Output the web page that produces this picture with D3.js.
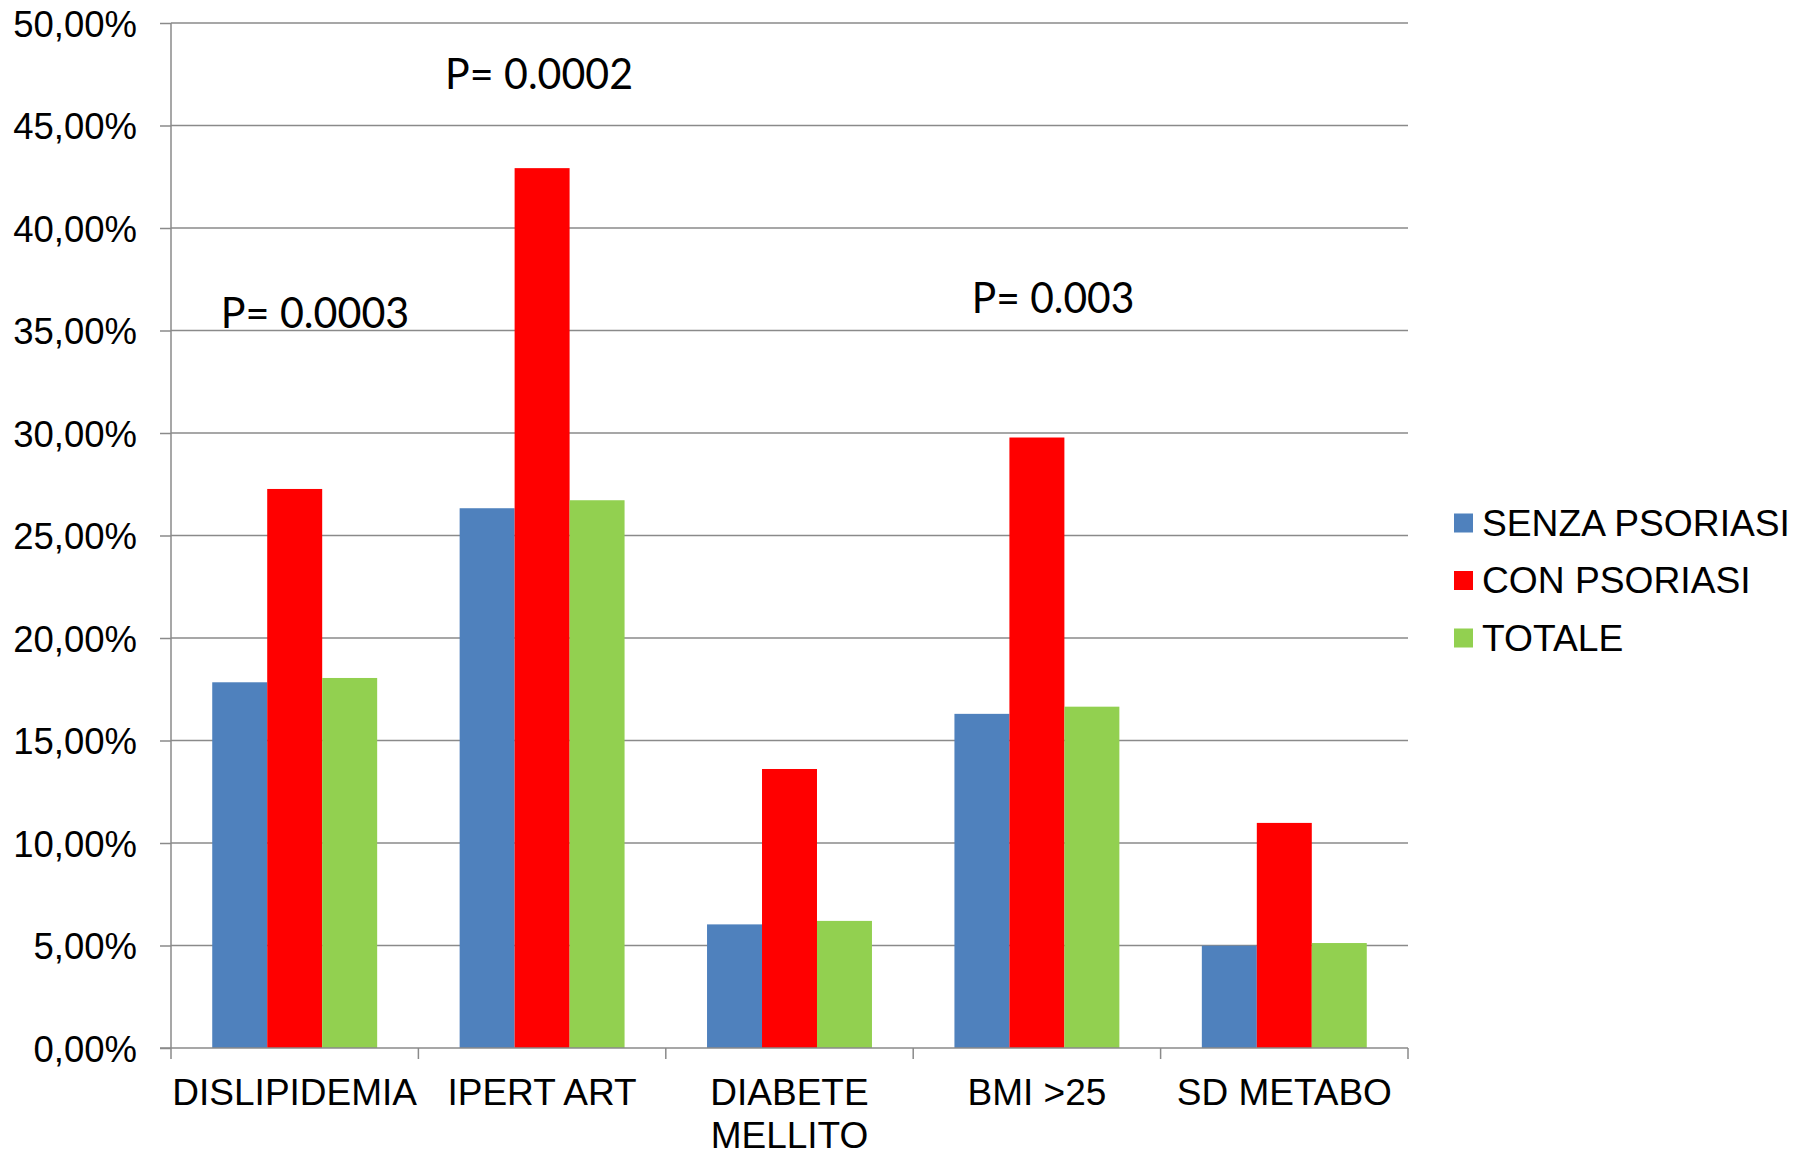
<!DOCTYPE html>
<html>
<head>
<meta charset="utf-8">
<script src="https://cdn.jsdelivr.net/npm/d3@7"></script>
<style>
  html, body { margin: 0; padding: 0; background: #fff; }
  svg { display: block; }
</style>
</head>
<body>
<svg id="chart" width="1796" height="1150"></svg>
<script>
// Categories (label lines) and series
const categories = ["DISLIPIDEMIA", "IPERT ART", "DIABETE MELLITO", "BMI >25", "SD METABO"];
const categoryLines = [["DISLIPIDEMIA"], ["IPERT ART"], ["DIABETE", "MELLITO"], ["BMI >25"], ["SD METABO"]];
const seriesNames = ["SENZA PSORIASI", "CON PSORIASI", "TOTALE"];
const senzaPsoriasi = [17.84, 26.33, 6.03, 16.30, 4.99];
const conPsoriasi   = [27.27, 42.92, 13.61, 29.78, 10.98];
const totale        = [18.05, 26.72, 6.20, 16.65, 5.12];
const yTicks = [0, 5, 10, 15, 20, 25, 30, 35, 40, 45, 50];
// P-value annotations: category index, text
const pLabels = [
  { cat: 0, text: "P= 0.0003" },
  { cat: 1, text: "P= 0.0002" },
  { cat: 3, text: "P= 0.003" }
];

const colors = ["#4F81BD", "#FF0000", "#92D050"];
const seriesValues = [senzaPsoriasi, conPsoriasi, totale];

(function draw() {
  const svg = d3.select("#chart");
  const plotLeft = 171, plotRight = 1408, plotTop = 23, plotBottom = 1048;

  const x = d3.scaleBand().domain(categories).range([plotLeft, plotRight]).paddingInner(0).paddingOuter(0);
  // 150% gap between groups: half of it on each side of a group
  const xInner = d3.scaleBand().domain(seriesNames).range([0, x.bandwidth()])
    .paddingInner(0).paddingOuter(0.75);
  const y = d3.scaleLinear().domain([0, 50]).range([plotBottom, plotTop]);

  const fmt = v => d3.format(".2f")(v).replace(".", ",") + "%";

  // Horizontal gridlines
  svg.append("g").selectAll("line").data(yTicks.filter(t => t > 0)).join("line")
    .attr("x1", plotLeft).attr("x2", plotRight)
    .attr("y1", d => y(d)).attr("y2", d => y(d))
    .attr("stroke", "#8a8a8a").attr("stroke-width", 1.5);

  // Bars
  const groups = svg.append("g").selectAll("g").data(categories).join("g")
    .attr("transform", d => `translate(${x(d)},0)`);
  groups.selectAll("rect")
    .data((d, i) => seriesNames.map((s, j) => ({ s, v: seriesValues[j][i], c: colors[j] })))
    .join("rect")
    .attr("x", d => xInner(d.s))
    .attr("width", xInner.bandwidth())
    .attr("y", d => y(d.v))
    .attr("height", d => plotBottom - y(d.v))
    .attr("fill", d => d.c);

  // Y axis
  const yAxis = svg.append("g").attr("transform", `translate(${plotLeft},0)`)
    .call(d3.axisLeft(y).tickValues(yTicks).tickFormat(fmt).tickSize(11).tickPadding(23));
  yAxis.select(".domain").attr("stroke", "#8a8a8a").attr("stroke-width", 1.5)
    .attr("d", `M0,${plotTop}V${plotBottom}`);
  yAxis.selectAll(".tick line").attr("stroke", "#8a8a8a").attr("stroke-width", 1.5);
  yAxis.selectAll(".tick text")
    .attr("font-family", "Liberation Sans, Arial, sans-serif")
    .attr("font-size", 36.5).attr("fill", "#000").attr("dy", "0.36em");

  // X axis line and boundary ticks
  const xAxis = svg.append("g");
  xAxis.append("line").attr("x1", plotLeft - 11).attr("x2", plotRight)
    .attr("y1", plotBottom).attr("y2", plotBottom)
    .attr("stroke", "#8a8a8a").attr("stroke-width", 1.5);
  const bounds = categories.map(c => x(c)).concat([plotRight]);
  xAxis.selectAll("line.tk").data(bounds).join("line").attr("class", "tk")
    .attr("x1", d => d).attr("x2", d => d)
    .attr("y1", plotBottom).attr("y2", plotBottom + 11)
    .attr("stroke", "#8a8a8a").attr("stroke-width", 1.5);

  // Category labels
  const xl = svg.append("g").selectAll("text").data(categories).join("text")
    .attr("x", d => x(d) + x.bandwidth() / 2)
    .attr("y", 1105)
    .attr("text-anchor", "middle")
    .attr("font-family", "Liberation Sans, Arial, sans-serif")
    .attr("font-size", 37).attr("fill", "#000");
  xl.each(function(d, i) {
    d3.select(this).selectAll("tspan").data(categoryLines[i]).join("tspan")
      .attr("x", x(d) + x.bandwidth() / 2)
      .attr("dy", (t, k) => k === 0 ? 0 : 42.5)
      .text(t => t);
  });

  // Legend
  const legend = svg.append("g").selectAll("g").data(seriesNames).join("g")
    .attr("transform", (d, i) => `translate(1454,${523 + i * 57.5})`);
  legend.append("rect").attr("x", 0).attr("y", -9.5).attr("width", 19).attr("height", 19)
    .attr("fill", (d, i) => colors[i]);
  legend.append("text").attr("x", 28).attr("y", 12.5)
    .attr("font-family", "Liberation Sans, Arial, sans-serif")
    .attr("font-size", 37.2).attr("fill", "#000").text(d => d);

  // P-value annotations
  const pPos = [
    { x: 220.7, y: 327.7, w: 188.6 },
    { x: 445, y: 89.3, w: 188 },
    { x: 971.7, y: 312.7, w: 162.6 }
  ];
  svg.append("g").selectAll("text").data(pLabels).join("text")
    .attr("x", (d, i) => pPos[i].x)
    .attr("y", (d, i) => pPos[i].y)
    .attr("textLength", (d, i) => pPos[i].w)
    .attr("lengthAdjust", "spacingAndGlyphs")
    .attr("font-family", "Lato, 'Open Sans', sans-serif")
    .attr("font-size", 42).attr("fill", "#000")
    .text(d => d.text);
})();
</script>
</body>
</html>
